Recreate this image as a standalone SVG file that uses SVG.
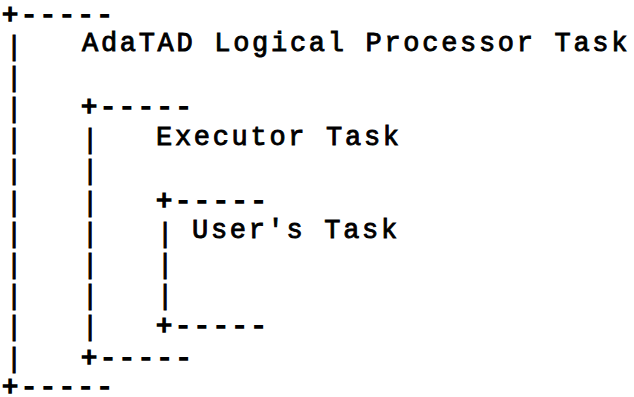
<svg xmlns="http://www.w3.org/2000/svg" width="634" height="397" viewBox="0 0 634 397">
  <style>
    .t { font-family: "Liberation Mono", "Courier New", monospace; font-size: 27px; letter-spacing: 2.7px; fill: #000; stroke: #000; stroke-width: 0.9px; white-space: pre; }
    .edge { font-family: "Liberation Mono", "Courier New", monospace; font-size: 27px; letter-spacing: 2.7px; fill: #000; stroke: #000; stroke-width: 1.6px; white-space: pre; }
    .bar { font-family: "Liberation Mono", "Courier New", monospace; font-size: 27px; fill: #000; stroke: #000; stroke-width: 0.9px; text-anchor: middle; }
  </style>
  <rect width="634" height="397" fill="#fff"/>

  <!-- outer task frame: column 0, rows 0..12 -->
  <g id="logical-processor-task">
    <text class="edge" x="2" y="23.4">+-----</text>
    <text class="bar" x="14 14 14 14 14 14 14 14 14 14 14" y="54.5 85.7 116.9 148.1 179.3 210.5 241.7 272.9 304.1 335.3 366.5">|||||||||||</text>
    <text class="t" x="82" y="51.2">AdaTAD Logical Processor Task</text>
    <text class="edge" x="2" y="394.6">+-----</text>
  </g>

  <!-- executor frame: column 4, rows 3..11 -->
  <g id="executor-task">
    <text class="edge" x="81" y="115.4">+-----</text>
    <text class="bar" x="90 90 90 90 90 90 90" y="148.1 179.3 210.5 241.7 272.9 304.1 335.3">|||||||</text>
    <text class="t" x="156" y="144.8">Executor Task</text>
    <text class="edge" x="81" y="366.4">+-----</text>
  </g>

  <!-- user frame: column 8, rows 6..10 -->
  <g id="users-task">
    <text class="edge" x="156" y="209">+-----</text>
    <text class="bar" x="165 165 165" y="241.7 272.9 304.1">|||</text>
    <text class="t" x="192" y="238.4">User's Task</text>
    <text class="edge" x="156" y="334.4">+-----</text>
  </g>
</svg>
